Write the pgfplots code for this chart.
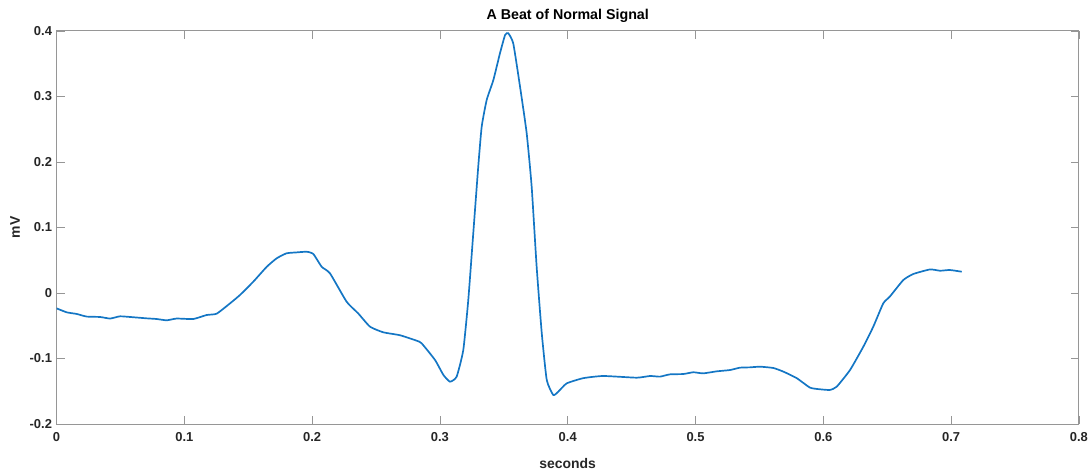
\documentclass[border=0pt]{standalone}
\usepackage{fontspec}
\setmainfont{Liberation Sans}
\usepackage{pgfplots}
\pgfplotsset{compat=1.18}
\definecolor{mblue}{RGB}{20,118,196}
\definecolor{axgrey}{RGB}{150,150,150}
\definecolor{txtgrey}{RGB}{38,38,38}
\begin{document}
\begin{tikzpicture}
\path[use as bounding box] (-56.5bp,-47bp) rectangle (1035.5bp,424bp);
\begin{axis}[
  at={(0,0)}, anchor=south west,
  scale only axis, width=1022.5bp, height=393bp,
  xmin=0, xmax=0.8, ymin=-0.2, ymax=0.4,
  xtick={0,0.1,...,0.8}, ytick={-0.2,-0.1,0,0.1,0.2,0.3,0.4},
  xticklabels={0,0.1,0.2,0.3,0.4,0.5,0.6,0.7,0.8},
  yticklabels={-0.2,-0.1,0,0.1,0.2,0.3,0.4},
  tick align=inside, major tick length=8bp,
  axis line style={axgrey, line width=1pt},
  every tick/.style={axgrey, line width=0.8pt},
  tick label style={font=\fontsize{13}{15}\selectfont\bfseries, text=txtgrey},
  /pgf/number format/assume math mode=true,
  xticklabel style={yshift=-5bp},
  yticklabel style={xshift=-1bp},
  title={\textbf{A Beat of Normal Signal}},
  title style={font=\fontsize{14.3}{16}\selectfont, yshift=-1bp},
  xlabel={\textbf{seconds}}, ylabel={\textbf{mV}},
  label style={font=\fontsize{14}{16}\selectfont, text=txtgrey},
  xlabel style={yshift=-10bp},
  ylabel style={yshift=3bp},
]
\addplot[mblue, line width=1.7pt, smooth, tension=0.3] coordinates {
(0,-0.0234) (0.008,-0.0295) (0.0158,-0.032) (0.0236,-0.036) (0.034,-0.0366)
(0.042,-0.039) (0.0497,-0.0356) (0.060,-0.037) (0.0706,-0.0387) (0.0784,-0.0397)
(0.0862,-0.0417) (0.094,-0.039) (0.107,-0.0397) (0.1175,-0.0336) (0.1253,-0.0316)
(0.1358,-0.0158) (0.1436,-0.003) (0.154,0.0173) (0.1645,0.040) (0.1723,0.053)
(0.180,0.0606) (0.188,0.062) (0.1958,0.063) (0.201,0.0595) (0.2075,0.040)
(0.214,0.030) (0.227,-0.0133) (0.236,-0.031) (0.2453,-0.0514) (0.2557,-0.0600)
(0.2688,-0.0645) (0.2818,-0.0728) (0.2857,-0.0768) (0.2962,-0.1023) (0.3027,-0.125)
(0.3079,-0.1354) (0.3131,-0.1277) (0.3183,-0.087) (0.3222,-0.0107) (0.3261,0.091)
(0.330,0.193) (0.3327,0.254) (0.3366,0.2947) (0.3418,0.325) (0.347,0.366)
(0.351,0.3939) (0.3535,0.3965) (0.3574,0.381) (0.3627,0.315) (0.3679,0.2438)
(0.3718,0.1623) (0.3757,0.040) (0.3797,-0.0615) (0.3836,-0.1328) (0.3887,-0.1557)
(0.3926,-0.1507) (0.3992,-0.138) (0.4122,-0.130) (0.4279,-0.1267) (0.454,-0.1293)
(0.4644,-0.1267) (0.4722,-0.1277) (0.480,-0.1242) (0.4905,-0.1237) (0.4983,-0.121)
(0.506,-0.1227) (0.5166,-0.1196) (0.527,-0.1176) (0.5348,-0.114) (0.5426,-0.1135)
(0.5505,-0.1125) (0.5609,-0.1145) (0.5687,-0.120) (0.5792,-0.130) (0.5896,-0.1445)
(0.5974,-0.147) (0.6052,-0.148) (0.6105,-0.143) (0.6209,-0.1176) (0.6313,-0.082)
(0.6391,-0.0514) (0.6469,-0.0158) (0.652,-0.0056) (0.6626,0.0198) (0.6704,0.029)
(0.6835,0.036) (0.6913,0.034) (0.699,0.0351) (0.7083,0.0325)
};
\end{axis}
\end{tikzpicture}
\end{document}
